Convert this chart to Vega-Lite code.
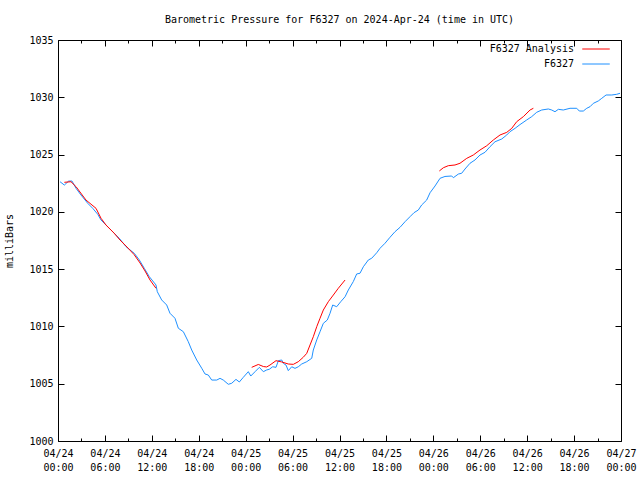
{
  "$schema": "https://vega.github.io/schema/vega-lite/v6.json",
  "width": 563,
  "height": 401,
  "autosize": {"type": "none"},
  "padding": {"left": 58, "top": 40, "right": 19, "bottom": 39},
  "background": "white",
  "title": {"text": "Barometric Pressure for F6327 on 2024-Apr-24 (time in UTC)", "font": "DejaVu Sans Mono", "fontSize": 10, "fontWeight": "normal", "anchor": "middle", "offset": 10, "color": "black"},
  "config": {
    "view": {"stroke": "black", "strokeWidth": 1},
    "axis": {"labelFont": "DejaVu Sans Mono", "labelFontSize": 10, "labelColor": "black", "titleFont": "DejaVu Sans Mono", "titleFontSize": 10, "titleFontWeight": "normal", "titleColor": "black", "domain": false, "grid": false, "tickColor": "black", "tickWidth": 1},
    "legend": {"orient": "none", "legendX": 532, "legendY": 3, "padding": 0, "labelFont": "DejaVu Sans Mono", "labelFontSize": 10, "labelColor": "black", "symbolType": "M-2.5,0H2.5", "symbolSize": 121, "symbolStrokeWidth": 1, "labelAlign": "right", "labelOffset": -28, "rowPadding": 4}
  },
  "datasets": {
    "d": [
      {"series": "F6327", "seg": "o", "hours": 0.26, "mb": 1022.63},
      {"series": "F6327", "seg": "o", "hours": 0.81, "mb": 1022.34},
      {"series": "F6327", "seg": "o", "hours": 1.37, "mb": 1022.69},
      {"series": "F6327", "seg": "o", "hours": 1.79, "mb": 1022.69},
      {"series": "F6327", "seg": "o", "hours": 2.30, "mb": 1022.06},
      {"series": "F6327", "seg": "o", "hours": 2.94, "mb": 1021.47},
      {"series": "F6327", "seg": "o", "hours": 3.80, "mb": 1020.75},
      {"series": "F6327", "seg": "o", "hours": 4.44, "mb": 1020.31},
      {"series": "F6327", "seg": "o", "hours": 5.08, "mb": 1019.79},
      {"series": "F6327", "seg": "o", "hours": 5.50, "mb": 1019.29},
      {"series": "F6327", "seg": "o", "hours": 6.14, "mb": 1018.85},
      {"series": "F6327", "seg": "o", "hours": 7.20, "mb": 1018.13},
      {"series": "F6327", "seg": "o", "hours": 7.84, "mb": 1017.69},
      {"series": "F6327", "seg": "o", "hours": 8.70, "mb": 1016.96},
      {"series": "F6327", "seg": "o", "hours": 9.76, "mb": 1016.38},
      {"series": "F6327", "seg": "o", "hours": 10.40, "mb": 1015.80},
      {"series": "F6327", "seg": "o", "hours": 11.04, "mb": 1015.07},
      {"series": "F6327", "seg": "o", "hours": 11.68, "mb": 1014.34},
      {"series": "F6327", "seg": "o", "hours": 12.53, "mb": 1013.62},
      {"series": "F6327", "seg": "o", "hours": 12.70, "mb": 1013.03},
      {"series": "F6327", "seg": "o", "hours": 13.26, "mb": 1012.31},
      {"series": "F6327", "seg": "o", "hours": 13.90, "mb": 1011.87},
      {"series": "F6327", "seg": "o", "hours": 14.32, "mb": 1011.15},
      {"series": "F6327", "seg": "o", "hours": 14.96, "mb": 1010.71},
      {"series": "F6327", "seg": "o", "hours": 15.39, "mb": 1009.84},
      {"series": "F6327", "seg": "o", "hours": 16.03, "mb": 1009.54},
      {"series": "F6327", "seg": "o", "hours": 16.66, "mb": 1008.67},
      {"series": "F6327", "seg": "o", "hours": 17.10, "mb": 1007.94},
      {"series": "F6327", "seg": "o", "hours": 17.74, "mb": 1007.07},
      {"series": "F6327", "seg": "o", "hours": 18.38, "mb": 1006.35},
      {"series": "F6327", "seg": "o", "hours": 18.80, "mb": 1005.85},
      {"series": "F6327", "seg": "o", "hours": 19.22, "mb": 1005.76},
      {"series": "F6327", "seg": "o", "hours": 19.66, "mb": 1005.32},
      {"series": "F6327", "seg": "o", "hours": 20.30, "mb": 1005.32},
      {"series": "F6327", "seg": "o", "hours": 20.72, "mb": 1005.47},
      {"series": "F6327", "seg": "o", "hours": 21.14, "mb": 1005.32},
      {"series": "F6327", "seg": "o", "hours": 21.78, "mb": 1004.95},
      {"series": "F6327", "seg": "o", "hours": 22.22, "mb": 1005.04},
      {"series": "F6327", "seg": "o", "hours": 22.76, "mb": 1005.38},
      {"series": "F6327", "seg": "o", "hours": 23.19, "mb": 1005.15},
      {"series": "F6327", "seg": "o", "hours": 23.70, "mb": 1005.56},
      {"series": "F6327", "seg": "o", "hours": 24.34, "mb": 1006.05},
      {"series": "F6327", "seg": "o", "hours": 24.65, "mb": 1005.67},
      {"series": "F6327", "seg": "o", "hours": 25.20, "mb": 1006.05},
      {"series": "F6327", "seg": "o", "hours": 25.75, "mb": 1006.43},
      {"series": "F6327", "seg": "o", "hours": 26.26, "mb": 1006.05},
      {"series": "F6327", "seg": "o", "hours": 26.69, "mb": 1006.20},
      {"series": "F6327", "seg": "o", "hours": 27.02, "mb": 1006.26},
      {"series": "F6327", "seg": "o", "hours": 27.46, "mb": 1006.48},
      {"series": "F6327", "seg": "o", "hours": 27.88, "mb": 1006.43},
      {"series": "F6327", "seg": "o", "hours": 28.18, "mb": 1007.01},
      {"series": "F6327", "seg": "o", "hours": 28.61, "mb": 1007.07},
      {"series": "F6327", "seg": "o", "hours": 28.81, "mb": 1006.78},
      {"series": "F6327", "seg": "o", "hours": 29.16, "mb": 1006.63},
      {"series": "F6327", "seg": "o", "hours": 29.45, "mb": 1006.14},
      {"series": "F6327", "seg": "o", "hours": 29.89, "mb": 1006.48},
      {"series": "F6327", "seg": "o", "hours": 30.31, "mb": 1006.34},
      {"series": "F6327", "seg": "o", "hours": 30.73, "mb": 1006.48},
      {"series": "F6327", "seg": "o", "hours": 31.17, "mb": 1006.72},
      {"series": "F6327", "seg": "o", "hours": 31.81, "mb": 1006.92},
      {"series": "F6327", "seg": "o", "hours": 32.45, "mb": 1007.22},
      {"series": "F6327", "seg": "o", "hours": 32.65, "mb": 1007.94},
      {"series": "F6327", "seg": "o", "hours": 33.09, "mb": 1008.82},
      {"series": "F6327", "seg": "o", "hours": 33.51, "mb": 1009.54},
      {"series": "F6327", "seg": "o", "hours": 33.93, "mb": 1010.27},
      {"series": "F6327", "seg": "o", "hours": 34.44, "mb": 1010.56},
      {"series": "F6327", "seg": "o", "hours": 34.79, "mb": 1011.15},
      {"series": "F6327", "seg": "o", "hours": 35.13, "mb": 1011.87},
      {"series": "F6327", "seg": "o", "hours": 35.64, "mb": 1011.72},
      {"series": "F6327", "seg": "o", "hours": 36.16, "mb": 1012.16},
      {"series": "F6327", "seg": "o", "hours": 36.71, "mb": 1012.59},
      {"series": "F6327", "seg": "o", "hours": 37.13, "mb": 1013.18},
      {"series": "F6327", "seg": "o", "hours": 37.77, "mb": 1013.92},
      {"series": "F6327", "seg": "o", "hours": 38.20, "mb": 1014.58},
      {"series": "F6327", "seg": "o", "hours": 38.62, "mb": 1014.64},
      {"series": "F6327", "seg": "o", "hours": 39.05, "mb": 1015.21},
      {"series": "F6327", "seg": "o", "hours": 39.69, "mb": 1015.80},
      {"series": "F6327", "seg": "o", "hours": 40.12, "mb": 1015.95},
      {"series": "F6327", "seg": "o", "hours": 40.76, "mb": 1016.43},
      {"series": "F6327", "seg": "o", "hours": 41.18, "mb": 1016.82},
      {"series": "F6327", "seg": "o", "hours": 41.82, "mb": 1017.26},
      {"series": "F6327", "seg": "o", "hours": 42.46, "mb": 1017.78},
      {"series": "F6327", "seg": "o", "hours": 43.10, "mb": 1018.27},
      {"series": "F6327", "seg": "o", "hours": 43.74, "mb": 1018.65},
      {"series": "F6327", "seg": "o", "hours": 44.38, "mb": 1019.14},
      {"series": "F6327", "seg": "o", "hours": 45.02, "mb": 1019.58},
      {"series": "F6327", "seg": "o", "hours": 45.53, "mb": 1019.93},
      {"series": "F6327", "seg": "o", "hours": 46.08, "mb": 1020.16},
      {"series": "F6327", "seg": "o", "hours": 46.51, "mb": 1020.60},
      {"series": "F6327", "seg": "o", "hours": 47.15, "mb": 1021.03},
      {"series": "F6327", "seg": "o", "hours": 47.58, "mb": 1021.67},
      {"series": "F6327", "seg": "o", "hours": 48.22, "mb": 1022.26},
      {"series": "F6327", "seg": "o", "hours": 48.86, "mb": 1022.93},
      {"series": "F6327", "seg": "o", "hours": 49.49, "mb": 1023.09},
      {"series": "F6327", "seg": "o", "hours": 50.35, "mb": 1023.13},
      {"series": "F6327", "seg": "o", "hours": 50.56, "mb": 1022.98},
      {"series": "F6327", "seg": "o", "hours": 51.20, "mb": 1023.30},
      {"series": "F6327", "seg": "o", "hours": 51.63, "mb": 1023.37},
      {"series": "F6327", "seg": "o", "hours": 52.05, "mb": 1023.74},
      {"series": "F6327", "seg": "o", "hours": 52.69, "mb": 1024.24},
      {"series": "F6327", "seg": "o", "hours": 53.33, "mb": 1024.53},
      {"series": "F6327", "seg": "o", "hours": 53.97, "mb": 1024.96},
      {"series": "F6327", "seg": "o", "hours": 54.61, "mb": 1025.20},
      {"series": "F6327", "seg": "o", "hours": 55.25, "mb": 1025.69},
      {"series": "F6327", "seg": "o", "hours": 55.89, "mb": 1026.12},
      {"series": "F6327", "seg": "o", "hours": 56.75, "mb": 1026.36},
      {"series": "F6327", "seg": "o", "hours": 57.39, "mb": 1026.71},
      {"series": "F6327", "seg": "o", "hours": 57.81, "mb": 1027.00},
      {"series": "F6327", "seg": "o", "hours": 58.45, "mb": 1027.29},
      {"series": "F6327", "seg": "o", "hours": 59.09, "mb": 1027.62},
      {"series": "F6327", "seg": "o", "hours": 59.94, "mb": 1028.02},
      {"series": "F6327", "seg": "o", "hours": 60.58, "mb": 1028.31},
      {"series": "F6327", "seg": "o", "hours": 61.22, "mb": 1028.69},
      {"series": "F6327", "seg": "o", "hours": 61.86, "mb": 1028.89},
      {"series": "F6327", "seg": "o", "hours": 62.71, "mb": 1028.98},
      {"series": "F6327", "seg": "o", "hours": 63.14, "mb": 1028.89},
      {"series": "F6327", "seg": "o", "hours": 63.56, "mb": 1028.74},
      {"series": "F6327", "seg": "o", "hours": 63.99, "mb": 1028.95},
      {"series": "F6327", "seg": "o", "hours": 64.62, "mb": 1028.89},
      {"series": "F6327", "seg": "o", "hours": 65.48, "mb": 1029.04},
      {"series": "F6327", "seg": "o", "hours": 66.34, "mb": 1029.04},
      {"series": "F6327", "seg": "o", "hours": 66.67, "mb": 1028.80},
      {"series": "F6327", "seg": "o", "hours": 67.18, "mb": 1028.80},
      {"series": "F6327", "seg": "o", "hours": 67.62, "mb": 1029.04},
      {"series": "F6327", "seg": "o", "hours": 68.04, "mb": 1029.18},
      {"series": "F6327", "seg": "o", "hours": 68.46, "mb": 1029.47},
      {"series": "F6327", "seg": "o", "hours": 69.10, "mb": 1029.68},
      {"series": "F6327", "seg": "o", "hours": 69.54, "mb": 1029.91},
      {"series": "F6327", "seg": "o", "hours": 70.09, "mb": 1030.20},
      {"series": "F6327", "seg": "o", "hours": 70.82, "mb": 1030.20},
      {"series": "F6327", "seg": "o", "hours": 71.45, "mb": 1030.26},
      {"series": "F6327", "seg": "o", "hours": 71.88, "mb": 1030.35},
      {"series": "F6327 Analysis", "seg": "a1", "hours": 0.81, "mb": 1022.58},
      {"series": "F6327 Analysis", "seg": "a1", "hours": 1.66, "mb": 1022.63},
      {"series": "F6327 Analysis", "seg": "a1", "hours": 2.30, "mb": 1022.20},
      {"series": "F6327 Analysis", "seg": "a1", "hours": 3.58, "mb": 1021.03},
      {"series": "F6327 Analysis", "seg": "a1", "hours": 4.86, "mb": 1020.31},
      {"series": "F6327 Analysis", "seg": "a1", "hours": 5.50, "mb": 1019.44},
      {"series": "F6327 Analysis", "seg": "a1", "hours": 6.14, "mb": 1018.85},
      {"series": "F6327 Analysis", "seg": "a1", "hours": 7.16, "mb": 1018.15},
      {"series": "F6327 Analysis", "seg": "a1", "hours": 7.93, "mb": 1017.54},
      {"series": "F6327 Analysis", "seg": "a1", "hours": 8.70, "mb": 1017.02},
      {"series": "F6327 Analysis", "seg": "a1", "hours": 9.72, "mb": 1016.28},
      {"series": "F6327 Analysis", "seg": "a1", "hours": 10.49, "mb": 1015.54},
      {"series": "F6327 Analysis", "seg": "a1", "hours": 11.13, "mb": 1014.84},
      {"series": "F6327 Analysis", "seg": "a1", "hours": 11.77, "mb": 1014.05},
      {"series": "F6327 Analysis", "seg": "a1", "hours": 12.53, "mb": 1013.33},
      {"series": "F6327 Analysis", "seg": "a2", "hours": 24.77, "mb": 1006.43},
      {"series": "F6327 Analysis", "seg": "a2", "hours": 25.62, "mb": 1006.68},
      {"series": "F6327 Analysis", "seg": "a2", "hours": 26.26, "mb": 1006.50},
      {"series": "F6327 Analysis", "seg": "a2", "hours": 26.69, "mb": 1006.46},
      {"series": "F6327 Analysis", "seg": "a2", "hours": 27.11, "mb": 1006.63},
      {"series": "F6327 Analysis", "seg": "a2", "hours": 27.88, "mb": 1007.01},
      {"series": "F6327 Analysis", "seg": "a2", "hours": 28.61, "mb": 1006.90},
      {"series": "F6327 Analysis", "seg": "a2", "hours": 29.45, "mb": 1006.72},
      {"series": "F6327 Analysis", "seg": "a2", "hours": 30.09, "mb": 1006.69},
      {"series": "F6327 Analysis", "seg": "a2", "hours": 30.73, "mb": 1006.92},
      {"series": "F6327 Analysis", "seg": "a2", "hours": 31.37, "mb": 1007.31},
      {"series": "F6327 Analysis", "seg": "a2", "hours": 31.81, "mb": 1007.65},
      {"series": "F6327 Analysis", "seg": "a2", "hours": 32.23, "mb": 1008.38},
      {"series": "F6327 Analysis", "seg": "a2", "hours": 32.65, "mb": 1009.10},
      {"series": "F6327 Analysis", "seg": "a2", "hours": 33.09, "mb": 1009.98},
      {"series": "F6327 Analysis", "seg": "a2", "hours": 33.51, "mb": 1010.71},
      {"series": "F6327 Analysis", "seg": "a2", "hours": 33.93, "mb": 1011.43},
      {"series": "F6327 Analysis", "seg": "a2", "hours": 34.57, "mb": 1012.16},
      {"series": "F6327 Analysis", "seg": "a2", "hours": 35.21, "mb": 1012.74},
      {"series": "F6327 Analysis", "seg": "a2", "hours": 35.85, "mb": 1013.33},
      {"series": "F6327 Analysis", "seg": "a2", "hours": 36.71, "mb": 1014.05},
      {"series": "F6327 Analysis", "seg": "a3", "hours": 48.77, "mb": 1023.57},
      {"series": "F6327 Analysis", "seg": "a3", "hours": 49.28, "mb": 1023.85},
      {"series": "F6327 Analysis", "seg": "a3", "hours": 49.92, "mb": 1024.03},
      {"series": "F6327 Analysis", "seg": "a3", "hours": 50.77, "mb": 1024.09},
      {"series": "F6327 Analysis", "seg": "a3", "hours": 51.41, "mb": 1024.24},
      {"series": "F6327 Analysis", "seg": "a3", "hours": 52.27, "mb": 1024.67},
      {"series": "F6327 Analysis", "seg": "a3", "hours": 53.11, "mb": 1024.96},
      {"series": "F6327 Analysis", "seg": "a3", "hours": 53.97, "mb": 1025.40},
      {"series": "F6327 Analysis", "seg": "a3", "hours": 54.83, "mb": 1025.77},
      {"series": "F6327 Analysis", "seg": "a3", "hours": 55.67, "mb": 1026.27},
      {"series": "F6327 Analysis", "seg": "a3", "hours": 56.53, "mb": 1026.71},
      {"series": "F6327 Analysis", "seg": "a3", "hours": 57.39, "mb": 1026.94},
      {"series": "F6327 Analysis", "seg": "a3", "hours": 58.03, "mb": 1027.29},
      {"series": "F6327 Analysis", "seg": "a3", "hours": 58.66, "mb": 1027.87},
      {"series": "F6327 Analysis", "seg": "a3", "hours": 59.51, "mb": 1028.31},
      {"series": "F6327 Analysis", "seg": "a3", "hours": 60.37, "mb": 1028.89},
      {"series": "F6327 Analysis", "seg": "a3", "hours": 60.79, "mb": 1029.04}
    ]
  },
  "data": {"name": "d"},
  "layer": [
    {
      "mark": {"type": "line", "strokeWidth": 1, "clip": true},
      "encoding": {
        "x": {"field": "hours", "type": "quantitative", "scale": {"domain": [0, 72], "nice": false, "zero": false},
          "axis": {"orient": "bottom", "title": null, "values": [0, 6, 12, 18, 24, 30, 36, 42, 48, 54, 60, 66, 72], "ticks": false, "labelPadding": 7, "labelLineHeight": 14, "labelBaseline": "top", "labelFlush": false, "labelOverlap": false,
            "labelExpr": "[utcFormat(utc(2024,3,24) + datum.value*3600000, '%m/%d'), utcFormat(utc(2024,3,24) + datum.value*3600000, '%H:%M')]"}},
        "y": {"field": "mb", "type": "quantitative", "scale": {"domain": [1000, 1035], "nice": false, "zero": false},
          "axis": {"orient": "left", "title": "milliBars", "format": "d", "values": [1000, 1005, 1010, 1015, 1020, 1025, 1030, 1035], "ticks": false, "labelPadding": 5, "labelFlush": false, "labelOverlap": false, "titlePadding": 14}},
        "color": {"field": "series", "type": "nominal", "scale": {"domain": ["F6327 Analysis", "F6327"], "range": ["#ff0000", "#1e90ff"]}, "legend": {"title": null}},
        "detail": {"field": "seg", "type": "nominal"}
      }
    },
    {
      "mark": {"type": "point", "opacity": 0},
      "encoding": {
        "x": {"field": "hours", "type": "quantitative", "axis": {"orient": "top", "offset": -401, "title": null, "values": [0, 6, 12, 18, 24, 30, 36, 42, 48, 54, 60, 66, 72], "tickSize": 6, "labels": false}},
        "y": {"field": "mb", "type": "quantitative", "axis": {"orient": "right", "offset": -563, "title": null, "values": [1000, 1005, 1010, 1015, 1020, 1025, 1030, 1035], "tickSize": 6, "labels": false}}
      }
    },
    {
      "mark": {"type": "point", "opacity": 0},
      "encoding": {
        "x": {"field": "hours", "type": "quantitative", "axis": {"orient": "top", "offset": -401, "title": null, "values": [3, 9, 15, 21, 27, 33, 39, 45, 51, 57, 63, 69], "tickSize": 3, "labels": false}},
        "y": {"field": "mb", "type": "quantitative", "axis": {"orient": "left", "offset": -563, "title": null, "values": [1000, 1005, 1010, 1015, 1020, 1025, 1030, 1035], "tickSize": 6, "labels": false}}
      }
    },
    {
      "mark": {"type": "point", "opacity": 0},
      "encoding": {
        "x": {"field": "hours", "type": "quantitative", "axis": {"orient": "bottom", "offset": -401, "title": null, "values": [0, 6, 12, 18, 24, 30, 36, 42, 48, 54, 60, 66, 72], "tickSize": 6, "labels": false}},
        "y": {"field": "mb", "type": "quantitative", "axis": null}
      }
    },
    {
      "mark": {"type": "point", "opacity": 0},
      "encoding": {
        "x": {"field": "hours", "type": "quantitative", "axis": {"orient": "bottom", "offset": -401, "title": null, "values": [3, 9, 15, 21, 27, 33, 39, 45, 51, 57, 63, 69], "tickSize": 3, "labels": false}},
        "y": {"field": "mb", "type": "quantitative", "axis": null}
      }
    }
  ],
  "resolve": {"axis": {"x": "independent", "y": "independent"}}
}
